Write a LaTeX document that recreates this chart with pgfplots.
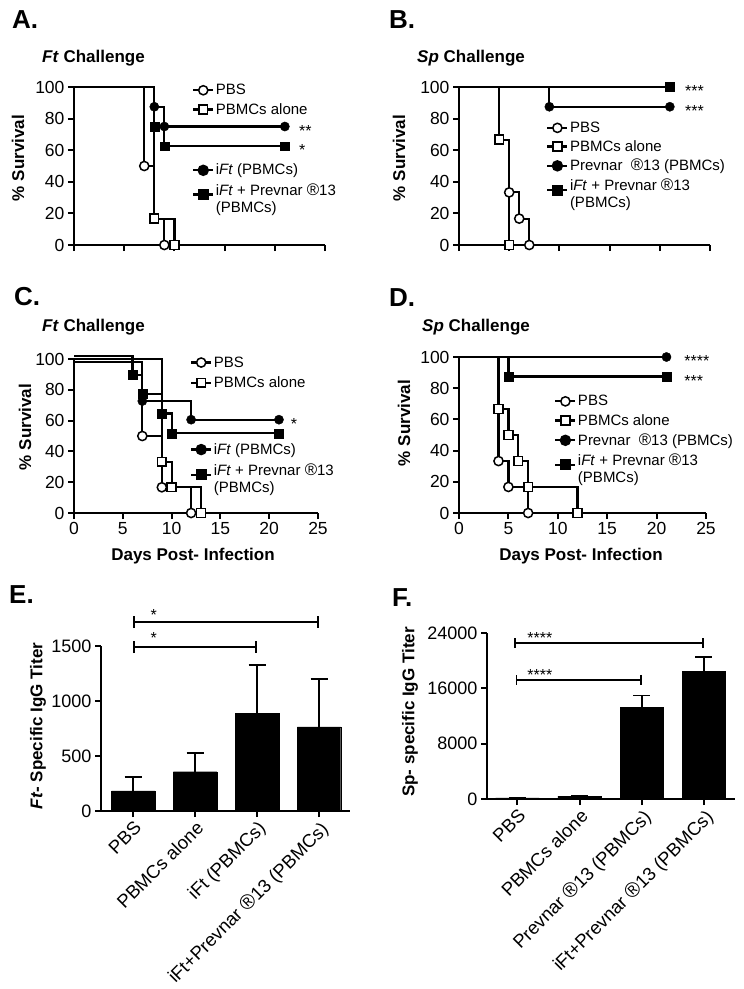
\documentclass[border=0pt]{standalone}
\usepackage{fontspec}
\setmainfont{Liberation Sans}
\usepackage{pgfplots}
\pgfplotsset{compat=1.18}
\usetikzlibrary{arrows.meta}
\newcommand{\R}{\scalebox{1.12}{®}}
\tikzset{sig/.style={font=\fontsize{16}{18}\selectfont, inner sep=0pt}}
\pgfplotsset{
  base/.style={scale only axis, anchor=south west, axis lines=left,
    axis line style={-, line width=2.2pt}, tick style={line width=2pt, black},
    major tick length=6pt, tick align=outside,
    tick label style={font=\fontsize{17.5}{20}\selectfont},
    /pgf/number format/assume math mode=true, /pgf/number format/1000 sep={},
    scaled ticks=false, clip=false},
  surv/.style={base, xmin=0, xmax=25, ymin=0, ymax=100,
    xtick={0,5,...,25}, ytick={0,20,...,100},
    legend cell align=left,
    legend style={draw=none, fill=none, font=\fontsize{15}{17}\selectfont,
      anchor=north west, inner sep=0pt, row sep=4pt, nodes={inner sep=1.5pt}},
    legend image code/.code={\draw[mark repeat=2,mark phase=2,##1] plot coordinates {(0pt,0pt)(10pt,0pt)(20pt,0pt)};}},
  ln/.style={black, line width=2.2pt, forget plot},
  lg/.style={black, line width=2.2pt},
  mO/.style={mark=*, mark size=4.6pt, mark options={fill=white, draw=black, line width=1.5pt, solid}},
  mS/.style={mark=square*, mark size=4.4pt, mark options={fill=white, draw=black, line width=1.5pt, solid}},
  mFO/.style={mark=*, mark size=4.6pt, mark options={fill=black, draw=black, solid}},
  mFS/.style={mark=square*, mark size=4.4pt, mark options={fill=black, draw=black, solid}},
  pts/.style={only marks, forget plot},
  barax/.style={base, ybar, bar width=0.7, enlarge x limits=false,
    tick label style={font=\fontsize{18}{20}\selectfont},
    xtick={0,1,2,3}, x tick label style={rotate=45, anchor=north east, inner sep=2pt, font=\fontsize{18.5}{20}\selectfont}},
  ebar/.style={fill=black, draw=black,
    error bars/.cd, y dir=plus, y explicit, error mark=|,
    error bar style={line width=1.6pt, black},
    error mark options={line width=1.6pt, mark size=8.5pt, black}},
}
\begin{document}
\begin{tikzpicture}
\useasboundingbox (0pt,0pt) rectangle (744pt,-989pt);

% ---------- A ----------
\begin{axis}[surv, width=251pt, height=158pt, at={(74pt,-245pt)}, xticklabels={,,,,,},
  legend style={at={(0.47,1.028)}}]
\addplot[ln] coordinates {(0,100)(7,100)(7,50)(8,50)(8,16.7)(9,16.7)(9,0)};
\addplot[ln] coordinates {(0,100)(8,100)(8,16.7)(10,16.7)(10,0)};
\addplot[ln] coordinates {(0,100)(8,100)(8,87.5)(9,87.5)(9,75)(21,75)};
\addplot[ln] coordinates {(0,100)(8,100)(8,75)(9,75)(9,62.5)(21,62.5)};
\addplot[pts, mO] coordinates {(7,50)(9,0)};
\addplot[pts, mS] coordinates {(8,16.7)(10,0)};
\addplot[pts, mFO] coordinates {(8,87.5)(9,75)(21,75)};
\addplot[pts, mFS] coordinates {(8,75)(9,62.5)(21,62.5)};
\addlegendimage{lg, mO}\addlegendentry{PBS}
\addlegendimage{lg, mS}\addlegendentry{PBMCs alone}
\addlegendimage{empty legend}\addlegendentry{\rule{0pt}{33pt}}
\addlegendimage{lg, mFO}\addlegendentry{i\textit{Ft} (PBMCs)}
\addlegendimage{lg, mFS}\addlegendentry{\begin{tabular}{@{}l@{}}i\textit{Ft} + Prevnar \R13\\(PBMCs)\end{tabular}}
\node[sig, anchor=west, yshift=-4pt] at (axis cs:22.4,75) {**};
\node[sig, anchor=west, yshift=-4pt] at (axis cs:22.4,62.5) {*};
\end{axis}

% ---------- B ----------
\begin{axis}[surv, width=251pt, height=158pt, at={(459pt,-245pt)}, xticklabels={,,,,,},
  legend style={at={(0.347,0.79)}, row sep=3.5pt}]
\addplot[ln] coordinates {(0,100)(4,100)(4,66.7)(5,66.7)(5,33.3)(6,33.3)(6,16.7)(7,16.7)(7,0)};
\addplot[ln] coordinates {(0,100)(4,100)(4,66.7)(5,66.7)(5,0)};
\addplot[ln] coordinates {(0,100)(9,100)(9,87.5)(21,87.5)};
\addplot[ln] coordinates {(0,100)(21,100)};
\addplot[pts, mS] coordinates {(4,66.7)(5,0)};
\addplot[pts, mO] coordinates {(5,33.3)(6,16.7)(7,0)};
\addplot[pts, mFO] coordinates {(9,87.5)(21,87.5)};
\addplot[pts, mFS] coordinates {(21,100)};
\addlegendimage{lg, mO}\addlegendentry{PBS}
\addlegendimage{lg, mS}\addlegendentry{PBMCs alone}
\addlegendimage{lg, mFO}\addlegendentry{Prevnar \ \R13 (PBMCs)}
\addlegendimage{lg, mFS}\addlegendentry{\begin{tabular}{@{}l@{}}i\textit{Ft} + Prevnar \R13\\(PBMCs)\end{tabular}}
\node[sig, anchor=west, yshift=-4pt] at (axis cs:22.5,100) {***};
\node[sig, anchor=west, yshift=-4pt] at (axis cs:22.5,87.5) {***};
\end{axis}

% ---------- C ----------
\begin{axis}[surv, width=244pt, height=154pt, at={(74pt,-513pt)},
  legend style={at={(0.475,1.027)}, row sep=5pt}]
\addplot[ln] coordinates {(0,97.8)(7,97.8)(7,50)(9,50)(9,16.7)(12,16.7)(12,0)};
\addplot[ln] coordinates {(0,100)(9,100)(9,33.3)(10,33.3)(10,16.7)(13,16.7)(13,0)};
\addplot[ln] coordinates {(0,97.8)(7,97.8)(7,72.7)(12,72.7)(12,60.6)(21,60.6)};
\addplot[ln] coordinates {(0,102.2)(6,102.2)(6,89.7)(7,89.7)(7,77.3)(9,77.3)(9,64.6)(10,64.6)(10,51.7)(21,51.7)};
\addplot[pts, mO] coordinates {(7,50)(9,16.7)(12,0)};
\addplot[pts, mS] coordinates {(9,33.3)(10,16.7)(13,0)};
\addplot[pts, mFO] coordinates {(7,72.7)(12,60.6)(21,60.6)};
\addplot[pts, mFS] coordinates {(6,89.7)(7,77.3)(9,64.6)(10,51.7)(21,51.7)};
\addlegendimage{lg, mO}\addlegendentry{PBS}
\addlegendimage{lg, mS}\addlegendentry{PBMCs alone}
\addlegendimage{empty legend}\addlegendentry{\rule{0pt}{37pt}}
\addlegendimage{lg, mFO}\addlegendentry{i\textit{Ft} (PBMCs)}
\addlegendimage{lg, mFS}\addlegendentry{\begin{tabular}{@{}l@{}}i\textit{Ft} + Prevnar \R13\\(PBMCs)\end{tabular}}
\node[sig, anchor=west, yshift=-4pt] at (axis cs:22.2,60.6) {*};
\end{axis}

% ---------- D ----------
\begin{axis}[surv, width=247pt, height=156pt, at={(459pt,-513pt)},
  legend style={at={(0.385,0.765)}, row sep=4pt}]
\addplot[ln] coordinates {(0,100)(4,100)(4,33.3)(5,33.3)(5,16.7)(7,16.7)(7,0)};
\addplot[ln] coordinates {(0,100)(4,100)(4,66.7)(5,66.7)(5,50)(6,50)(6,33.3)(7,33.3)(7,16.7)(12,16.7)(12,0)};
\addplot[ln] coordinates {(0,100)(21,100)};
\addplot[ln] coordinates {(0,100)(5,100)(5,87.5)(21,87.5)};
\addplot[pts, mO] coordinates {(4,33.3)(5,16.7)(7,0)};
\addplot[pts, mS] coordinates {(4,66.7)(5,50)(6,33.3)(7,16.7)(12,0)};
\addplot[pts, mFO] coordinates {(21,100)};
\addplot[pts, mFS] coordinates {(5,87.5)(21,87.5)};
\addlegendimage{lg, mO}\addlegendentry{PBS}
\addlegendimage{lg, mS}\addlegendentry{PBMCs alone}
\addlegendimage{lg, mFO}\addlegendentry{Prevnar \ \R13 (PBMCs)}
\addlegendimage{lg, mFS}\addlegendentry{\begin{tabular}{@{}l@{}}i\textit{Ft} + Prevnar \R13\\(PBMCs)\end{tabular}}
\node[sig, anchor=west, yshift=-4pt] at (axis cs:22.8,100) {****};
\node[sig, anchor=west, yshift=-4pt] at (axis cs:22.8,87.5) {***};
\end{axis}

% ---------- E ----------
\begin{axis}[barax, width=249pt, height=165pt, at={(101pt,-811pt)},
  xmin=-0.52, xmax=3.5, ymin=0, ymax=1500, ytick={0,500,1000,1500},
  xticklabels={PBS, PBMCs alone, iFt (PBMCs), iFt+Prevnar \R13 (PBMCs)}]
\addplot[ebar]
  coordinates {(0,184) +- (0,127) (1,357) +- (0,172) (2,886) +- (0,439) (3,765) +- (0,435)};
\draw[{Bar[width=12pt]}-{Bar[width=12pt]}, line width=1.6pt] (axis cs:0,1718) -- (axis cs:3,1718);
\draw[{Bar[width=12pt]}-{Bar[width=12pt]}, line width=1.6pt] (axis cs:0,1491) -- (axis cs:2,1491);
\node[sig, anchor=south, yshift=1pt] at (axis cs:0.33,1718) {*};
\node[sig, anchor=south, yshift=3pt] at (axis cs:0.33,1491) {*};
\end{axis}

% ---------- F ----------
\begin{axis}[barax, width=248pt, height=166pt, at={(487pt,-799pt)},
  xmin=-0.49, xmax=3.5, ymin=0, ymax=24000, ytick={0,8000,16000,24000},
  xticklabels={PBS, PBMCs alone, Prevnar \R13 (PBMCs), iFt+Prevnar \R13 (PBMCs)}]
\addplot[ebar]
  coordinates {(0,150) +- (0,40) (1,435) +- (0,60) (2,13280) +- (0,1690) (3,18450) +- (0,2080)};
\draw[{Bar[width=10pt]}-{Bar[width=10pt]}, line width=1.6pt] (axis cs:-0.05,22550) -- (axis cs:3,22550);
\draw[{Bar[width=10pt]}-{Bar[width=10pt]}, line width=1.6pt] (axis cs:-0.03,17240) -- (axis cs:2,17240);
\node[sig, anchor=south, yshift=-1pt] at (axis cs:0.36,22550) {****};
\node[sig, anchor=south, yshift=-1pt] at (axis cs:0.36,17240) {****};
\end{axis}

% ---------- panel letters, titles, axis labels ----------
\begin{scope}[every node/.style={inner sep=0pt}]
\node[anchor=west, font=\fontsize{26}{30}\selectfont\bfseries] at (12pt,-20pt) {A.};
\node[anchor=west, font=\fontsize{26}{30}\selectfont\bfseries] at (389pt,-20pt) {B.};
\node[anchor=west, font=\fontsize{26}{30}\selectfont\bfseries] at (14pt,-297pt) {C.};
\node[anchor=west, font=\fontsize{26}{30}\selectfont\bfseries] at (389pt,-298pt) {D.};
\node[anchor=west, font=\fontsize{26}{30}\selectfont\bfseries] at (9pt,-595pt) {E.};
\node[anchor=west, font=\fontsize{26}{30}\selectfont\bfseries] at (392pt,-598pt) {F.};
\node[anchor=west, font=\fontsize{17}{20}\selectfont\bfseries] at (42pt,-58pt) {\textit{Ft} Challenge};
\node[anchor=west, font=\fontsize{17}{20}\selectfont\bfseries] at (417pt,-58pt) {\textit{Sp} Challenge};
\node[anchor=west, font=\fontsize{17}{20}\selectfont\bfseries] at (42pt,-327pt) {\textit{Ft} Challenge};
\node[anchor=west, font=\fontsize{17}{20}\selectfont\bfseries] at (422pt,-327pt) {\textit{Sp} Challenge};
\node[rotate=90, font=\fontsize{17}{20}\selectfont\bfseries] at (18pt,-158pt) {\% Survival};
\node[rotate=90, font=\fontsize{17}{20}\selectfont\bfseries] at (399pt,-158pt) {\% Survival};
\node[rotate=90, font=\fontsize{17}{20}\selectfont\bfseries] at (25pt,-427pt) {\% Survival};
\node[rotate=90, font=\fontsize{17}{20}\selectfont\bfseries] at (404pt,-423pt) {\% Survival};
\node[font=\fontsize{17}{20}\selectfont\bfseries] at (193pt,-556pt) {Days Post- Infection};
\node[font=\fontsize{17}{20}\selectfont\bfseries] at (581pt,-556pt) {Days Post- Infection};
\node[rotate=90, font=\fontsize{17}{20}\selectfont\bfseries] at (38pt,-726pt) {\textit{Ft}- Specific IgG Titer};
\node[rotate=90, font=\fontsize{17}{20}\selectfont\bfseries] at (410pt,-712pt) {Sp- specific IgG Titer};
\end{scope}
\end{tikzpicture}
\end{document}
